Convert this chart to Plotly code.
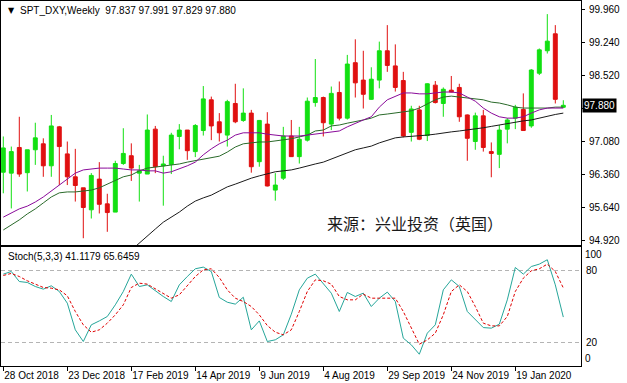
import plotly.graph_objects as go

# ---------------- data (weekly bars, 28 Oct 2018 .. 1 Mar 2020) ----------------
bars = list(range(71))

opens = [96.42, 96.40, 96.96, 96.41, 96.91, 97.04, 96.56, 97.41, 96.82, 96.32,
         96.08, 95.60, 96.27, 95.73, 95.55, 96.61, 96.78, 96.40, 96.38, 97.36,
         96.56, 96.59, 97.20, 97.34, 96.87, 97.33, 98.00, 97.52, 97.23, 97.92,
         97.55, 97.71, 96.65, 97.47, 96.03, 96.29, 97.21, 96.76, 97.12, 97.94,
         98.05, 97.47, 98.16, 97.60, 98.81, 98.43, 98.01, 98.43, 99.07, 98.74,
         98.42, 97.29, 97.78, 97.22, 98.32, 97.92, 98.21, 98.27, 97.67, 97.09,
         97.65, 96.87, 96.81, 97.36, 97.60, 97.79, 97.43, 98.58, 99.07, 99.44,
         97.837]
highs = [97.20, 96.98, 97.63, 96.91, 97.50, 97.16, 97.67, 97.43, 97.09, 96.93,
         96.08, 96.40, 96.64, 95.95, 96.67, 97.38, 97.05, 96.58, 97.68, 97.43,
         96.78, 97.28, 97.47, 97.34, 97.47, 98.30, 98.07, 97.71, 98.00, 98.35,
         98.25, 97.78, 97.56, 97.73, 96.40, 97.41, 97.56, 97.41, 98.05, 98.89,
         98.07, 98.29, 98.40, 98.98, 99.32, 99.07, 98.71, 99.27, 99.63, 99.21,
         98.61, 97.87, 97.87, 98.36, 98.41, 98.27, 98.52, 98.35, 97.68, 97.72,
         97.78, 97.07, 97.45, 97.60, 97.89, 98.14, 98.67, 99.12, 99.87, 99.63,
         97.991]
lows = [95.96, 95.63, 96.32, 96.00, 96.58, 96.32, 96.32, 96.14, 96.14, 95.78,
        94.98, 95.41, 95.52, 95.12, 95.55, 96.58, 96.23, 95.78, 96.38, 96.40,
        95.69, 96.38, 96.92, 96.69, 96.75, 97.22, 97.12, 97.09, 96.98, 97.49,
        97.52, 96.41, 96.54, 96.11, 95.80, 96.25, 96.76, 96.61, 97.09, 97.85,
        97.20, 97.34, 97.55, 97.57, 98.05, 97.81, 98.00, 98.25, 98.61, 98.18,
        97.18, 97.09, 97.12, 97.10, 97.92, 97.63, 98.16, 97.52, 96.67, 96.91,
        96.87, 96.31, 96.51, 97.05, 97.36, 97.33, 97.39, 98.54, 99.01, 97.92,
        97.829]
closes = [96.95, 96.87, 96.38, 96.91, 97.17, 96.56, 97.43, 96.98, 96.32, 96.13,
          95.65, 96.35, 95.72, 95.54, 96.61, 96.83, 96.51, 96.45, 97.34, 96.54,
          96.60, 97.23, 97.34, 96.89, 97.44, 98.02, 97.43, 97.28, 97.96, 97.52,
          97.71, 96.54, 97.55, 96.12, 96.14, 97.21, 96.76, 97.14, 97.97, 98.05,
          97.50, 98.14, 97.60, 98.78, 98.37, 98.12, 98.45, 99.07, 98.75, 98.27,
          97.21, 97.80, 97.14, 98.35, 97.94, 98.23, 98.17, 97.63, 97.16, 97.65,
          96.96, 96.83, 97.34, 97.56, 97.84, 97.33, 98.65, 99.09, 99.28, 98.01,
          97.880]

# moving averages
ma_purple = [95.44, 95.53, 95.62, 95.68, 95.77, 95.88, 96.01, 96.14, 96.29, 96.40,
             96.47, 96.49, 96.51, 96.51, 96.51, 96.49, 96.47, 96.47, 96.45, 96.45,
             96.40, 96.43, 96.49, 96.56, 96.64, 96.80, 96.93, 97.04, 97.12, 97.23,
             97.28, 97.28, 97.28, 97.25, 97.23, 97.21, 97.21, 97.21, 97.23, 97.25,
             97.28, 97.30, 97.32, 97.41, 97.49, 97.56, 97.63, 97.84, 98.00, 98.08,
             98.15, 98.15, 98.13, 98.13, 98.15, 98.17, 98.17, 98.15, 98.06, 97.97,
             97.82, 97.71, 97.63, 97.60, 97.60, 97.63, 97.71, 97.78, 97.82, 97.82,
             97.82]
ma_green = [95.16, 95.27, 95.38, 95.51, 95.62, 95.75, 95.88, 95.97, 95.99, 95.99,
            96.01, 96.03, 96.08, 96.16, 96.25, 96.32, 96.36, 96.45, 96.51, 96.53,
            96.56, 96.58, 96.60, 96.64, 96.67, 96.71, 96.73, 96.77, 96.86, 96.97,
            97.04, 97.06, 97.08, 97.08, 97.10, 97.12, 97.15, 97.19, 97.23, 97.32,
            97.34, 97.43, 97.45, 97.49, 97.52, 97.56, 97.60, 97.67, 97.69, 97.71,
            97.73, 97.76, 97.82, 97.91, 98.00, 98.06, 98.08, 98.06, 98.04, 98.02,
            98.00, 97.95, 97.93, 97.89, 97.84, 97.82, 97.82, 97.82, 97.82, 97.84,
            97.84]
ma_black_x = list(range(16, 71))
ma_black = [94.72, 94.88, 95.03, 95.18, 95.33, 95.44, 95.55, 95.68, 95.79, 95.86,
            95.92, 96.01, 96.10, 96.16, 96.23, 96.29, 96.34, 96.38, 96.43, 96.45,
            96.47, 96.51, 96.56, 96.60, 96.64, 96.71, 96.77, 96.84, 96.91, 96.95,
            96.99, 97.06, 97.12, 97.17, 97.19, 97.20, 97.21, 97.23, 97.25, 97.28,
            97.30, 97.32, 97.34, 97.36, 97.39, 97.42, 97.45, 97.48, 97.52, 97.54,
            97.56, 97.60, 97.65, 97.68, 97.71]

# Stochastic (5,3,3)
stoch_k = [77.2, 79.4, 71.0, 70.2, 66.8, 64.6, 67.4, 62.6, 52.8, 30.4,
           20.6, 34.6, 37.9, 41.6, 51.4, 62.6, 77.2, 66.8, 68.2, 63.2,
           58.4, 54.2, 68.2, 75.2, 81.7, 83.1, 79.4, 57.6, 53.6, 52.0,
           57.8, 30.4, 37.9, 20.6, 22.0, 26.2, 43.5, 64.0, 73.8, 77.2,
           69.6, 61.2, 45.8, 61.8, 58.4, 61.2, 50.0, 57.0, 62.1, 54.2,
           23.4, 17.8, 9.9, 27.6, 34.6, 64.0, 72.4, 66.8, 45.8, 38.8,
           32.3, 31.8, 35.1, 55.6, 82.8, 77.2, 83.6, 85.6, 89.3, 68.2,
           41.1179]
stoch_d = [76.1, 77.8, 75.2, 71.6, 68.8, 66.0, 65.4, 64.0, 59.0, 45.8,
           34.6, 28.4, 30.4, 36.0, 43.0, 51.4, 66.0, 69.6, 68.8, 64.9,
           60.4, 57.0, 59.8, 67.7, 75.2, 80.8, 81.7, 74.4, 64.0, 57.0,
           54.2, 50.0, 43.0, 34.0, 28.4, 26.2, 30.4, 45.8, 62.6, 72.4,
           71.6, 68.8, 58.4, 55.6, 55.6, 60.4, 57.0, 57.0, 57.0, 57.0,
           45.8, 32.3, 18.3, 21.9, 27.6, 43.0, 62.6, 68.2, 62.6, 50.0,
           36.0, 33.7, 33.7, 41.6, 62.6, 73.8, 80.0, 81.7, 85.6, 79.4,
           65.6459]

price_ticks = [94.92, 95.64, 96.36, 97.08, 97.80, 98.52, 99.24, 99.96]
# the 97.800 label sits behind the last-price box in the original
price_tick_text = ["94.920", "95.640", "96.360", "97.080", "", "98.520", "99.240", "99.960"]
date_tick_bars = [0, 8, 16, 24, 32, 40, 48, 56, 64]
date_labels = ["28 Oct 2018", "23 Dec 2018", "17 Feb 2019", "14 Apr 2019", "9 Jun 2019",
               "4 Aug 2019", "29 Sep 2019", "24 Nov 2019", "19 Jan 2020"]
last_price = 97.880

# ---------------- figure ----------------
FONT = "Liberation Sans"
UP = "#12E012"
DOWN = "#E01010"

fig = go.Figure()
fig.add_trace(go.Candlestick(
    x=bars, open=opens, high=highs, low=lows, close=closes,
    increasing=dict(line=dict(color=UP, width=1), fillcolor=UP),
    decreasing=dict(line=dict(color=DOWN, width=1), fillcolor=DOWN),
    whiskerwidth=0, xaxis="x", yaxis="y", hoverinfo="skip"))
fig.add_trace(go.Scatter(x=ma_black_x, y=ma_black, mode="lines",
                         line=dict(color="#1a1a1a", width=1), xaxis="x", yaxis="y"))
fig.add_trace(go.Scatter(x=bars, y=ma_green, mode="lines",
                         line=dict(color="#2a6a2a", width=1), xaxis="x", yaxis="y"))
fig.add_trace(go.Scatter(x=bars, y=ma_purple, mode="lines",
                         line=dict(color="#8a0a9a", width=1), xaxis="x", yaxis="y"))

fig.add_trace(go.Scatter(x=bars, y=stoch_k, mode="lines",
                         line=dict(color="#26A69A", width=1), xaxis="x2", yaxis="y2"))
fig.add_trace(go.Scatter(x=bars, y=stoch_d, mode="lines",
                         line=dict(color="#E00000", width=1, dash="3px,2px"),
                         xaxis="x2", yaxis="y2"))

xr = [-0.2875, 72.2125]
axis_common = dict(showline=True, mirror=True, linecolor="black", linewidth=1,
                   zeroline=False, automargin=False)

fig.update_layout(
    width=627, height=383,
    margin=dict(l=1, r=46, t=1, b=17),
    paper_bgcolor="white", plot_bgcolor="white",
    showlegend=False,
    font=dict(family=FONT, size=10, color="black"),
    xaxis=dict(domain=[0, 1], range=xr, anchor="y", showgrid=False,
               showticklabels=False, ticks="", rangeslider=dict(visible=False),
               **axis_common),
    yaxis=dict(domain=[0.3315, 1], range=[94.832, 100.156], anchor="x", side="right",
               tickvals=price_ticks, ticktext=price_tick_text,
               ticks="outside", ticklen=3, tickcolor="black", showgrid=False,
               ticklabelstandoff=2, tickfont=dict(family=FONT, size=10),
               **axis_common),
    xaxis2=dict(domain=[0, 1], range=xr, anchor="y2", showgrid=False,
                tickvals=date_tick_bars, ticktext=date_labels, tickangle=0,
                ticks="outside", ticklen=4, tickcolor="black",
                ticklabelposition="outside right",
                tickfont=dict(family=FONT, size=10), **axis_common),
    yaxis2=dict(domain=[0, 0.326], range=[0, 100], anchor="x2", side="right",
                tickvals=[20, 80], ticktext=["20", "80"], ticks="",
                showgrid=True, gridcolor="#b4b4b4", griddash="4px,3px", gridwidth=1,
                ticklabelstandoff=2, tickfont=dict(family=FONT, size=10),
                **axis_common),
)

ann = []
ann.append(dict(text="▼", xref="paper", yref="paper", x=0.0086, y=0.9753,
                xanchor="left", yanchor="middle", showarrow=False,
                font=dict(family="DejaVu Sans", size=8, color="black")))
ann.append(dict(text="SPT_DXY,Weekly  97.837 97.991 97.829 97.880", xref="paper", yref="paper",
                x=0.0293, y=0.9753, xanchor="left", yanchor="middle", showarrow=False,
                font=dict(family=FONT, size=10, color="black")))
ann.append(dict(text="Stoch(5,3,3) 41.1179 65.6459", xref="paper", yref="paper",
                x=0.0086, y=0.300, xanchor="left", yanchor="middle", showarrow=False,
                font=dict(family=FONT, size=10, color="black")))
ann.append(dict(text="来源：兴业投资（英国）", xref="paper", yref="paper",
                x=0.5586, y=0.3918, xanchor="left", yanchor="middle", showarrow=False,
                font=dict(family="Noto Sans CJK SC", size=16, color="#1a1a1a")))
ann.append(dict(text="100", xref="paper", yref="paper", x=1.004, y=0.3068,
                xanchor="left", yanchor="middle", showarrow=False,
                font=dict(family=FONT, size=10, color="black")))
ann.append(dict(text="0", xref="paper", yref="paper", x=1.004, y=0.0219,
                xanchor="left", yanchor="middle", showarrow=False,
                font=dict(family=FONT, size=10, color="black")))
ann.append(dict(text=f"{last_price:.3f}", xref="paper", yref="y", x=1.0017, y=last_price,
                xanchor="left", yanchor="middle", showarrow=False,
                bgcolor="black", borderpad=1,
                font=dict(family=FONT, size=10, color="white")))
fig.update_layout(annotations=ann)

fig.write_html("out.html")
